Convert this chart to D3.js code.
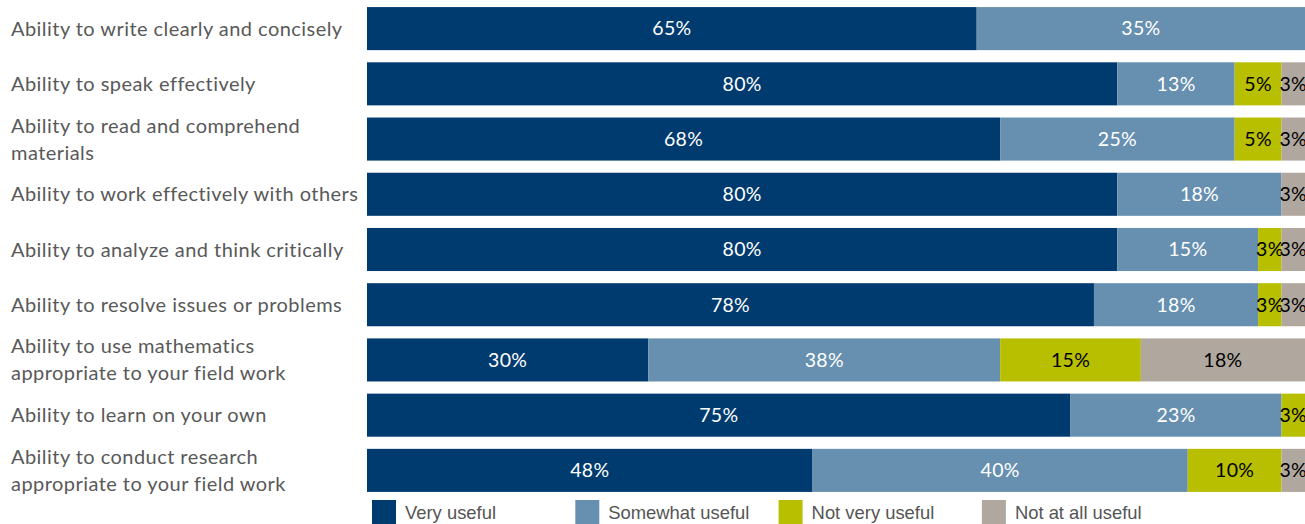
<!DOCTYPE html>
<html>
<head>
<meta charset="utf-8">
<script src="https://cdn.jsdelivr.net/npm/d3@7"></script>
<style>
  body { margin: 0; background: #fff; }
</style>
</head>
<body>
<div id="chart"></div>
<script>
// survey items (each line of a wrapped label is its own entry)
const categories = [
  ["Ability to write clearly and concisely"],
  ["Ability to speak effectively"],
  ["Ability to read and comprehend", "materials"],
  ["Ability to work effectively with others"],
  ["Ability to analyze and think critically"],
  ["Ability to resolve issues or problems"],
  ["Ability to use mathematics", "appropriate to your field work"],
  ["Ability to learn on your own"],
  ["Ability to conduct research", "appropriate to your field work"]
];

const seriesNames = ["Very useful", "Somewhat useful", "Not very useful", "Not at all useful"];

// percentages, one value per category
const veryUseful     = [65, 80, 67.5, 80, 80, 77.5, 30, 75, 47.5];
const somewhatUseful = [35, 12.5, 25, 17.5, 15, 17.5, 37.5, 22.5, 40];
const notVeryUseful  = [0, 5, 5, 0, 2.5, 2.5, 15, 2.5, 10];
const notAtAllUseful = [0, 2.5, 2.5, 2.5, 2.5, 2.5, 17.5, 0, 2.5];

const colors = ["#003b70", "#6790b0", "#b8be00", "#b0a89f"];
const labelColors = ["#fff", "#fff", "#000", "#000"];

const width = 1305, height = 524;
const margin = {top: 1, right: 0, bottom: 26, left: 367};

const rows = categories.map((c, i) => ({
  key: i,
  lines: c,
  "Very useful": veryUseful[i],
  "Somewhat useful": somewhatUseful[i],
  "Not very useful": notVeryUseful[i],
  "Not at all useful": notAtAllUseful[i]
}));

const stacked = d3.stack().keys(seriesNames)(rows);

const x = d3.scaleLinear().domain([0, 100]).range([margin.left, width - margin.right]);
const y = d3.scaleBand()
    .domain(rows.map(d => d.key))
    .range([margin.top, height - margin.bottom])
    .paddingInner(0.22)
    .paddingOuter(0.11);

const svg = d3.select("#chart").append("svg")
    .attr("width", width)
    .attr("height", height)
    .attr("viewBox", [0, 0, width, height]);

const layer = svg.append("g")
  .selectAll("g")
  .data(stacked)
  .join("g")
    .attr("fill", (d, i) => colors[i]);

layer.selectAll("rect")
  .data(d => d.filter(p => p[1] - p[0] > 0))
  .join("rect")
    .attr("x", d => x(d[0]))
    .attr("y", d => y(d.data.key))
    .attr("width", d => x(d[1]) - x(d[0]))
    .attr("height", y.bandwidth());

// value labels inside the segments
layer.each(function(s, i) {
  d3.select(this).selectAll("text")
    .data(s.filter(p => p[1] - p[0] > 0))
    .join("text")
      .attr("x", d => (x(d[0]) + x(d[1])) / 2)
      .attr("y", d => y(d.data.key) + y.bandwidth() / 2)
      .attr("dy", "0.35em")
      .attr("text-anchor", "middle")
      .attr("fill", labelColors[i])
      .attr("font-family", "Lato, 'Open Sans', sans-serif")
      .attr("font-size", 19.5)
      .attr("letter-spacing", 0.3)
      .text(d => Math.round(d[1] - d[0]) + "%");
});

// category labels on the left
const cat = svg.append("g")
  .selectAll("text")
  .data(rows)
  .join("text")
    .attr("x", 11)
    .attr("y", d => y(d.key) + y.bandwidth() / 2 - (d.lines.length - 1) * 13.5)
    .attr("fill", "#595959")
    .attr("font-family", "Lato, 'Open Sans', sans-serif")
    .attr("font-size", 20)
    .attr("letter-spacing", 0.45);

cat.selectAll("tspan")
  .data(d => d.lines)
  .join("tspan")
    .attr("x", 11)
    .attr("dy", (d, i) => i === 0 ? "0.35em" : 27)
    .text(d => d);

// legend
const legend = svg.append("g")
  .selectAll("g")
  .data(seriesNames)
  .join("g")
    .attr("transform", (d, i) => `translate(${372 + i * 203.3},500)`);

legend.append("rect")
    .attr("width", 24)
    .attr("height", 24)
    .attr("fill", (d, i) => colors[i]);

legend.append("text")
    .attr("x", 33)
    .attr("y", 12)
    .attr("dy", "0.36em")
    .attr("fill", "#555")
    .attr("font-family", "'Liberation Sans', Arial, sans-serif")
    .attr("font-size", 18.4)
    .text(d => d);
</script>
</body>
</html>
